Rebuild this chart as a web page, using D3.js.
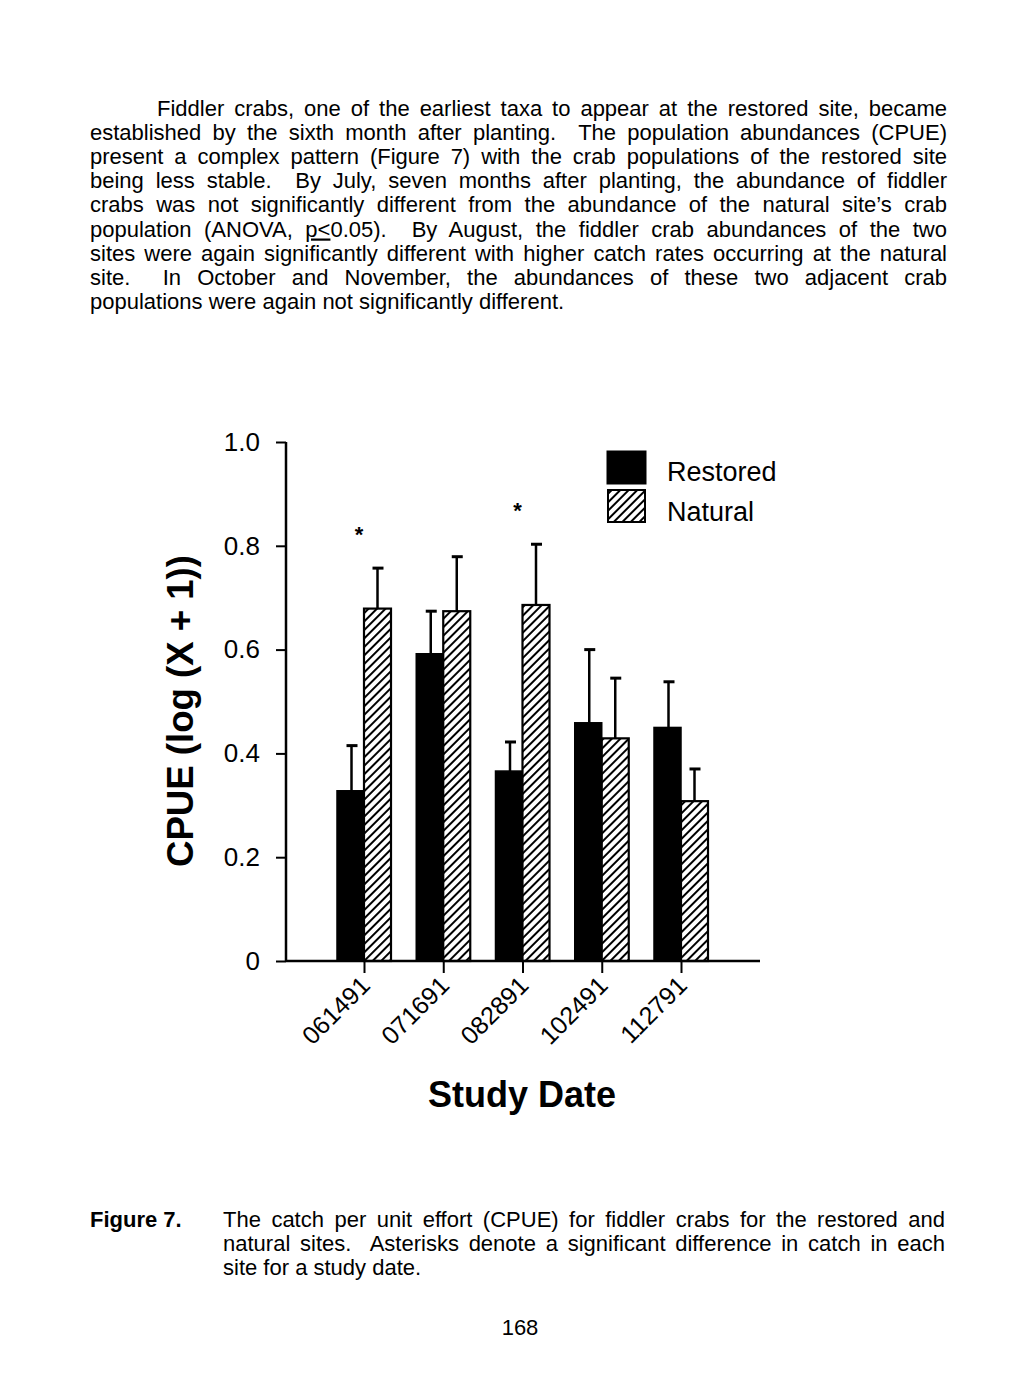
<!DOCTYPE html>
<html lang="en">
<head>
<meta charset="utf-8">
<title>Figure 7 - Fiddler crab CPUE</title>
<script src="https://cdn.jsdelivr.net/npm/d3@7"></script>
<style>
  body { margin: 0; background: #fff; }
  text { font-family: "Liberation Sans", Arial, Helvetica, sans-serif; fill: #000; }
</style>
</head>
<body>
<script>
// ---- data ------------------------------------------------------------
var dates = ["061491", "071691", "082891", "102491", "112791"];
var restored = [0.328, 0.592, 0.366, 0.459, 0.450];
var restoredErr = [0.415, 0.674, 0.422, 0.600, 0.538];   // top of error bar
var natural = [0.679, 0.674, 0.686, 0.429, 0.308];
var naturalErr = [0.757, 0.779, 0.803, 0.545, 0.370];
var signif = [true, false, true, false, false];
var yTicks = [0, 0.2, 0.4, 0.6, 0.8, 1.0];

var bodyLines = [
  "Fiddler crabs, one of the earliest taxa to appear at the restored site, became",
  "established by the sixth month after planting.  The population abundances (CPUE)",
  "present a complex pattern (Figure 7) with the crab populations of the restored site",
  "being less stable.  By July, seven months after planting, the abundance of fiddler",
  "crabs was not significantly different from the abundance of the natural site\u2019s crab",
  "population (ANOVA, |p<|0.05).  By August, the fiddler crab abundances of the two",
  "sites were again significantly different with higher catch rates occurring at the natural",
  "site.  In October and November, the abundances of these two adjacent crab",
  "populations were again not significantly different."
];
var captionLines = [
  "The catch per unit effort (CPUE) for fiddler crabs for the restored and",
  "natural sites.  Asterisks denote a significant difference in catch in each",
  "site for a study date."
];

// ---- page -------------------------------------------------------------
var W = 1017, H = 1380;
var svg = d3.select("body").append("svg").attr("width", W).attr("height", H);

var defs = svg.append("defs");
var pat = defs.append("pattern")
    .attr("id", "hatch")
    .attr("patternUnits", "userSpaceOnUse")
    .attr("width", 6).attr("height", 6)
    .attr("patternTransform", "rotate(45)");
pat.append("rect").attr("width", 6).attr("height", 6).attr("fill", "#fff");
pat.append("line").attr("x1", 1).attr("y1", 0).attr("x2", 1).attr("y2", 6)
    .attr("stroke", "#000").attr("stroke-width", 2);

// justified text lines: stretch word gaps to hit the right margin
var fs = 22;
function writeLines(lines, x0, x1, y0, lh, firstIndent) {
  lines.forEach(function(s, i) {
    var x = (i === 0 && firstIndent) ? firstIndent : x0;
    var t = svg.append("text")
        .attr("x", x).attr("y", y0 + i * lh)
        .attr("font-size", fs)
        .attr("xml:space", "preserve");
    s.split("|").forEach(function(p, k) {
      var ts = t.append("tspan").text(p);
      if (k % 2 === 1) ts.attr("text-decoration", "underline");
    });
    if (i === lines.length - 1) return;
    var w = t.node().getComputedTextLength();
    var gaps = s.split(" ").length - 1;
    t.attr("word-spacing", ((x1 - x) - w) / gaps);
  });
}
writeLines(bodyLines, 90, 947, 116, 24.1, 157);
writeLines(captionLines, 223, 945, 1227, 24.1, 0);

svg.append("text").attr("x", 90).attr("y", 1227)
    .attr("font-size", fs).attr("font-weight", "bold").text("Figure 7.");
svg.append("text").attr("x", 520).attr("y", 1335).attr("text-anchor", "middle")
    .attr("font-size", fs).text("168");

// ---- chart ------------------------------------------------------------
var x0 = 286, x1 = 760, yBase = 961, yTop = 442;
var y = d3.scaleLinear().domain([0, 1]).range([yBase, yTop]);
var x = d3.scalePoint().domain(dates).range([364, 681]);
var barW = 27;

var g = svg.append("g");

// bars
var grp = g.selectAll(".grp").data(dates).join("g").attr("class", "grp");
grp.append("rect")
    .attr("x", function(d) { return x(d) - barW; })
    .attr("y", function(d, i) { return y(restored[i]); })
    .attr("width", barW)
    .attr("height", function(d, i) { return yBase - y(restored[i]); })
    .attr("fill", "#000").attr("stroke", "#000").attr("stroke-width", 1.5);
grp.append("rect")
    .attr("x", function(d) { return x(d); })
    .attr("y", function(d, i) { return y(natural[i]); })
    .attr("width", barW)
    .attr("height", function(d, i) { return yBase - y(natural[i]); })
    .attr("fill", "url(#hatch)").attr("stroke", "#000").attr("stroke-width", 2.2);

// error bars
function errBar(cx, v, e) {
  g.append("line").attr("x1", cx).attr("x2", cx).attr("y1", y(v)).attr("y2", y(e))
      .attr("stroke", "#000").attr("stroke-width", 2.5);
  g.append("line").attr("x1", cx - 5).attr("x2", cx + 6).attr("y1", y(e)).attr("y2", y(e))
      .attr("stroke", "#000").attr("stroke-width", 3);
}
dates.forEach(function(d, i) {
  errBar(x(d) - barW / 2 + 1, restored[i], restoredErr[i]);
  errBar(x(d) + barW / 2, natural[i], naturalErr[i]);
  if (signif[i]) {
    g.append("text").attr("x", x(d) - 5)
        .attr("y", y(Math.max(naturalErr[i], restoredErr[i]) + 0.075) + 13)
        .attr("text-anchor", "middle")
        .attr("font-size", 22).attr("font-weight", "bold").text("*");
  }
});

// y axis
var yAxis = d3.axisLeft(y).tickValues(yTicks).tickSize(10).tickPadding(16)
    .tickFormat(function(d) { return d === 0 ? "0" : d3.format(".1f")(d); });
var ya = svg.append("g").attr("transform", "translate(" + x0 + ",0)").call(yAxis);
ya.select(".domain").remove();
ya.selectAll(".tick line").attr("stroke", "#000").attr("stroke-width", 2);
ya.selectAll(".tick text").attr("font-size", 26).attr("font-family", "Liberation Sans, Arial, sans-serif")
    .attr("fill", "#000");
svg.append("line").attr("x1", x0).attr("x2", x0).attr("y1", yTop).attr("y2", yBase)
    .attr("stroke", "#000").attr("stroke-width", 2.5);

// x axis
var xAxis = d3.axisBottom(x).tickSize(12).tickFormat("");
var xa = svg.append("g").attr("transform", "translate(0," + yBase + ")").call(xAxis);
xa.select(".domain").remove();
xa.selectAll(".tick line").attr("stroke", "#000").attr("stroke-width", 2);
svg.append("line").attr("x1", x0).attr("x2", x1).attr("y1", yBase).attr("y2", yBase)
    .attr("stroke", "#000").attr("stroke-width", 2.5);

xa.selectAll(".tick").append("text")
    .attr("transform", "translate(7,26) rotate(-45)")
    .attr("text-anchor", "end")
    .attr("font-size", 25)
    .attr("font-family", "Liberation Sans, Arial, sans-serif")
    .attr("fill", "#000")
    .text(function(d) { return d; });

// axis titles
svg.append("text").attr("x", 522).attr("y", 1107).attr("text-anchor", "middle")
    .attr("font-size", 36).attr("font-weight", "bold")
    .style("font-family", "'Liberation Sans Narrow', 'Arial Narrow', sans-serif")
    .text("Study Date");
svg.append("text").attr("transform", "translate(193,711) rotate(-90)")
    .attr("text-anchor", "middle").attr("font-size", 36).attr("font-weight", "bold")
    .attr("textLength", 312).attr("lengthAdjust", "spacingAndGlyphs")
    .text("CPUE (log (X + 1))");

// legend
var leg = svg.append("g").attr("transform", "translate(607,451)");
leg.append("rect").attr("width", 39).attr("height", 33).attr("fill", "#000").attr("stroke", "#000");
leg.append("rect").attr("x", 1).attr("y", 39).attr("width", 37).attr("height", 32)
    .attr("fill", "url(#hatch)").attr("stroke", "#000").attr("stroke-width", 2);
leg.append("text").attr("x", 60).attr("y", 30).attr("font-size", 27).text("Restored");
leg.append("text").attr("x", 60).attr("y", 70).attr("font-size", 27).text("Natural");
</script>
</body>
</html>
